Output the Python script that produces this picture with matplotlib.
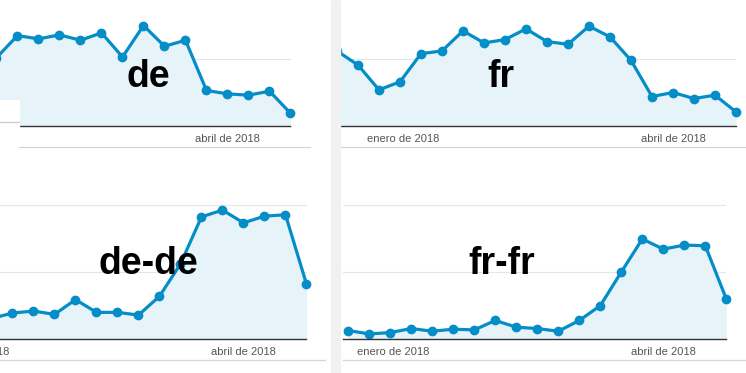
import matplotlib
matplotlib.use("Agg")
import matplotlib.pyplot as plt
import matplotlib.dates as mdates
import matplotlib.patches as mpatches
from matplotlib.lines import Line2D
import pandas as pd

plt.rcParams['font.family'] = ['Liberation Sans', 'DejaVu Sans']

# weekly sessions (Sundays), all series end on 2018-04-22
last_week = "2018-04-22"
de_values = [102, 135, 130, 136, 128, 139, 103, 150, 119, 128, 53, 48, 46, 52, 19]
fr_values = [112, 91, 54, 66, 108, 112, 142, 124, 129, 145, 126, 122, 149, 133, 98,
             44, 50, 41, 46, 21]
dede_values = [31, 39, 42, 37, 59, 40, 40, 36, 64, 112, 182, 192, 173, 183, 185, 82]
frfr_values = [13, 8, 10, 16, 12, 15, 14, 28, 18, 16, 12, 28, 50, 100, 149, 134,
               140, 139, 60]
titles = ["de", "fr", "de-de", "fr-fr"]
month_labels = {"2018-01-01": "enero de 2018", "2018-04-01": "abril de 2018"}

W, H = 746, 373
LINE = "#058dc7"
FILL = "#e6f3f9"

fig = plt.figure(figsize=(W / 100, H / 100), dpi=100)
fig.patch.set_facecolor("white")


def px_axes(x0, x1, y0, y1):
    # pixel box (y measured from the top) -> figure fraction axes
    return fig.add_axes([x0 / W, 1 - y1 / H, (x1 - x0) / W, (y1 - y0) / H])


def draw_panel(values, box, ytop, gridvals, labels):
    x0, x1, y0, y1 = box
    dates = pd.date_range(end=last_week, periods=len(values), freq="W-SUN")
    ax = px_axes(x0, x1, y0, y1)
    end = mdates.date2num(pd.Timestamp(last_week))
    ax.set_xlim(end - (x1 - x0) / 3.0, end)
    ax.set_ylim(0, ytop)

    ax.fill_between(dates, values, 0, color=FILL, lw=0, zorder=1)
    clip = mpatches.Rectangle((0, -0.2), 1.05, 1.4, transform=ax.transAxes)
    ln, = ax.plot(dates, values, color=LINE, lw=2.3, marker="o", ms=6,
                  zorder=3)
    ln.set_clip_path(clip)

    ax.set_yticks(gridvals)
    ax.yaxis.grid(True, color="#e6e6e6", lw=0.8)
    ax.set_axisbelow(True)
    ax.tick_params(left=False, bottom=False, labelleft=False, labelbottom=False)
    for s in ["left", "right", "top"]:
        ax.spines[s].set_visible(False)
    ax.spines["bottom"].set_color("#333333")
    ax.spines["bottom"].set_linewidth(1.0)
    ax.spines["bottom"].set_zorder(4)
    ax.patch.set_alpha(0)

    for d in labels:
        ax.annotate(month_labels[d], xy=(mdates.date2num(pd.Timestamp(d)), 0),
                    xycoords=ax.get_xaxis_transform(), xytext=(0, -5.6),
                    textcoords="offset points", ha="center", va="top",
                    fontsize=8, color="#555555", annotation_clip=False)
    return ax


top_ylim = 126 / 67 * 100
bot_ylim = 149.3 / 67.3 * 100
draw_panel(de_values, (0, 290.5, 0, 126), top_ylim, [100], ["2018-04-01"])
draw_panel(fr_values, (340, 736, 0, 126), top_ylim, [100],
           ["2018-01-01", "2018-04-01"])
draw_panel(dede_values, (0, 306.5, 190, 339.3), bot_ylim, [100, 200],
           ["2018-01-01", "2018-04-01"])
draw_panel(frfr_values, (342.7, 726.3, 190, 339.3), bot_ylim, [100, 200],
           ["2018-01-01", "2018-04-01"])


def fig_hline(y, xa, xb, color="#d4d4d4", lw=0.9, z=6):
    fig.add_artist(Line2D([xa / W, xb / W], [1 - y / H, 1 - y / H],
                          transform=fig.transFigure, color=color, lw=lw, zorder=z))


# separators under the date labels
fig_hline(147.3, 19, 310)
fig_hline(147.3, 340, 746)
fig_hline(360, 0, 325)
fig_hline(360, 342.7, 746)

# white patch from the pasted screenshot at the top-left corner
fig.add_artist(mpatches.Rectangle((0, 1 - 150 / H), 19 / W, 50 / H,
                                  transform=fig.transFigure, color="white",
                                  zorder=5))
fig_hline(121.7, 0, 19, color="#cccccc")

# vertical gray divider between the two columns
fig.add_artist(mpatches.Rectangle((331 / W, 0), 8.5 / W, 1,
                                  transform=fig.transFigure, color="#f1f1f1",
                                  zorder=7))

# big overlaid titles
title_pos = [(148, 87.3), (501, 87.3), (148, 273.5), (502, 273.5)]
for t, (tx, ty) in zip(titles, title_pos):
    fig.text(tx / W, 1 - ty / H, t, ha="center", va="baseline", fontsize=27,
             fontweight="bold", color="black", zorder=8)

fig.savefig("out.png", dpi=100)
